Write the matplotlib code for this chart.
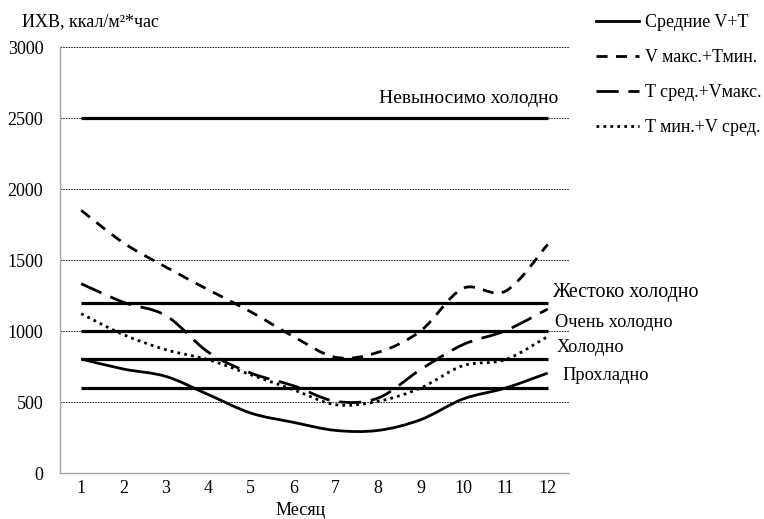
import numpy as np
import matplotlib
matplotlib.use("Agg")
import matplotlib.pyplot as plt
from matplotlib.path import Path
from matplotlib.patches import PathPatch
from matplotlib.lines import Line2D

plt.rcParams['font.family'] = ['Liberation Serif', 'DejaVu Serif']

# данные
months = [1, 2, 3, 4, 5, 6, 7, 8, 9, 10, 11, 12]
avg_vt = [803, 732, 680, 552, 422, 357, 300, 300, 375, 521, 598, 704]
vmax_tmin = [1850, 1620, 1450, 1290, 1135, 962, 815, 850, 1000, 1300, 1280, 1610]
tavg_vmax = [1333, 1202, 1108, 850, 704, 615, 505, 528, 728, 904, 1002, 1155]
tmin_vavg = [1122, 974, 868, 798, 692, 587, 481, 505, 598, 756, 798, 962]

series_labels = ['Средние V+T', 'V макс.+Тмин.', 'T сред.+Vмакс.', 'T мин.+V сред.']
levels = [600, 800, 1000, 1200, 2500]
level_names = ['Прохладно', 'Холодно', 'Очень холодно', 'Жестоко холодно', 'Невыносимо холодно']


def smooth_path(x, y):
    # сглаживание как в Excel (Catmull-Rom -> кривые Безье)
    x = np.asarray(x, float)
    y = np.asarray(y, float)
    pts = np.column_stack([x, y])
    verts = [pts[0]]
    codes = [Path.MOVETO]
    n = len(pts)
    for i in range(n - 1):
        p0 = pts[max(i - 1, 0)]
        p1 = pts[i]
        p2 = pts[i + 1]
        p3 = pts[min(i + 2, n - 1)]
        c1 = p1 + (p2 - p0) / 6.0
        c2 = p2 - (p3 - p1) / 6.0
        verts += [c1, c2, p2]
        codes += [Path.CURVE4] * 3
    return Path(verts, codes)


fig = plt.figure(figsize=(7.64, 5.19), dpi=100)
ax = fig.add_axes([0.0785, 0.0886, 0.6662, 0.8208])

styles = [
    dict(linestyle='-', linewidth=2.0),
    dict(linestyle=(0, (4, 3)), linewidth=2.0),
    dict(linestyle=(0, (8, 3.5)), linewidth=2.0),
    dict(linestyle=(0, (1, 1.5)), linewidth=2.0),
]

# пороговые уровни
for lev in levels:
    ax.plot([months[0], months[-1]], [lev, lev], color='black', linewidth=2.3,
            solid_capstyle='butt', zorder=3)

for ys, st in zip([avg_vt, vmax_tmin, tavg_vmax, tmin_vavg], styles):
    patch = PathPatch(smooth_path(months, ys), facecolor='none', edgecolor='black',
                      capstyle='butt', zorder=4, **st)
    ax.add_patch(patch)

# подписи уровней
ax.text(8.02, 2640, level_names[4], fontsize=14, va='center', ha='left')
ax.text(12.09, 1273, level_names[3], fontsize=14.4, va='center', ha='left', clip_on=False)
ax.text(12.16, 1057, level_names[2], fontsize=13.2, va='center', ha='left', clip_on=False)
ax.text(12.2, 882, level_names[1], fontsize=13.2, va='center', ha='left', clip_on=False)
ax.text(12.35, 690, level_names[0], fontsize=13.2, va='center', ha='left', clip_on=False)

ax.set_xlim(0.5, 12.5)
ax.set_ylim(0, 3000)
ax.set_xticks(months)
ax.set_yticks(np.arange(0, 3001, 500))
ax.tick_params(length=0, labelsize=13)
ax.tick_params(axis='x', pad=5)
ax.tick_params(axis='y', pad=12)

for lv in np.arange(500, 3001, 500):
    ax.axhline(lv, color='black', linewidth=0.6, linestyle=(0, (2, 1.2)), zorder=1)

for side in ['top', 'right']:
    ax.spines[side].set_visible(False)
for side in ['left', 'bottom']:
    ax.spines[side].set_color('#a6a6a6')
    ax.spines[side].set_linewidth(1.0)

fig.text(0.029, 0.958, 'ИХВ, ккал/м²*час', fontsize=13, va='center', ha='left')
fig.text(0.393, 0.016, 'Месяц', fontsize=13, va='center', ha='center')

handles = [Line2D([], [], color='black', **st) for st in styles]
fig.legend(handles, series_labels, loc='upper left', bbox_to_anchor=(0.780, 0.973),
           frameon=False, fontsize=13, handlelength=2.4, handletextpad=0.3,
           labelspacing=1.0, borderaxespad=0, borderpad=0)

fig.savefig('out.png', dpi=100)
